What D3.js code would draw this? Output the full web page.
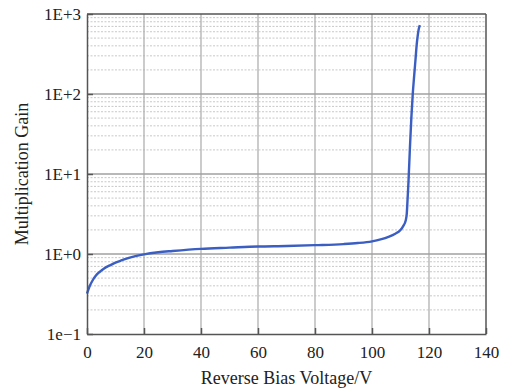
<!DOCTYPE html>
<html>
<head>
<meta charset="utf-8">
<script src="https://cdn.jsdelivr.net/npm/d3@7"></script>
<style>
  body { margin: 0; background: #fff; }
  text { font-family: "Liberation Serif", "Times New Roman", serif; fill: #222; }
</style>
</head>
<body>
<div id="chart"></div>
<script>
// reverse bias voltage (V) and multiplication gain
const voltage = [0, 1, 2, 3, 4, 5, 6, 8, 10, 12, 15, 20, 25, 30, 40, 50, 60, 70, 80, 90, 95, 100,
  103, 106, 108, 110, 111, 111.8, 112.2, 112.5, 112.8, 113.3, 113.8, 114.3, 114.8, 115.3, 115.7,
  116.0, 116.3, 116.6, 116.8];
const gain = [0.32, 0.40, 0.47, 0.53, 0.58, 0.62, 0.66, 0.72, 0.78, 0.83, 0.90, 0.99, 1.05, 1.09,
  1.16, 1.20, 1.24, 1.26, 1.29, 1.33, 1.37, 1.44, 1.52, 1.65, 1.78, 2.0, 2.25, 2.6, 3.2, 5.0, 8,
  21, 50, 100, 170, 280, 420, 520, 620, 690, 725];
const xTicks = [0, 20, 40, 60, 80, 100, 120, 140];
const yTicks = [0.1, 1, 10, 100, 1000];
const yTickLabels = ["1e\u22121", "1E+0", "1E+1", "1E+2", "1E+3"];

const W = 509, H = 391;
const margin = {top: 14, right: 23, bottom: 57, left: 87};
const width = W - margin.left - margin.right;
const height = H - margin.top - margin.bottom;

const svg = d3.select("#chart").append("svg")
  .attr("width", W).attr("height", H);
const g = svg.append("g")
  .attr("transform", "translate(" + margin.left + "," + margin.top + ")");

const x = d3.scaleLinear().domain([0, 140]).range([0, width]);
const y = d3.scaleLog().domain([0.1, 1000]).range([height, 0]);

// minor log gridlines (dotted)
const minor = [];
for (let d = 0.1; d < 1000; d *= 10) {
  for (let k = 2; k <= 9; k++) minor.push(d * k);
}
g.selectAll(".minor").data(minor).enter().append("line")
  .attr("x1", 0).attr("x2", width)
  .attr("y1", d => y(d)).attr("y2", d => y(d))
  .attr("stroke", "#c8c8c8").attr("stroke-width", 1)
  .attr("stroke-dasharray", "2,1.5");

// vertical major gridlines
g.selectAll(".vgrid").data(xTicks.slice(1, -1)).enter().append("line")
  .attr("x1", d => x(d)).attr("x2", d => x(d))
  .attr("y1", 0).attr("y2", height)
  .attr("stroke", "#b0b0b0").attr("stroke-width", 1.3);

// horizontal decade gridlines
g.selectAll(".hgrid").data(yTicks.slice(1, -1)).enter().append("line")
  .attr("x1", 0).attr("x2", width)
  .attr("y1", d => y(d)).attr("y2", d => y(d))
  .attr("stroke", "#a0a0a0").attr("stroke-width", 1.5);

// curve
const line = d3.line()
  .x((d, i) => x(voltage[i]))
  .y(d => y(d))
  .curve(d3.curveMonotoneX);
g.append("path").datum(gain)
  .attr("d", line)
  .attr("fill", "none")
  .attr("stroke", "#3a5ec2")
  .attr("stroke-width", 2.4)
  .attr("stroke-linejoin", "round");

// axes
const xAxis = g.append("g")
  .attr("transform", "translate(0," + height + ")")
  .call(d3.axisBottom(x).tickValues(xTicks).tickSizeInner(-6).tickSizeOuter(0).tickPadding(12));
xAxis.selectAll("text").style("font-size", "17px").attr("fill", "#222");

const yAxis = g.append("g")
  .call(d3.axisLeft(y).tickValues(yTicks).tickFormat((d, i) => yTickLabels[i])
    .tickSizeInner(-6).tickSizeOuter(0).tickPadding(6));
yAxis.selectAll("text").style("font-size", "17px").attr("fill", "#222");

svg.selectAll(".domain").attr("stroke", "#555").attr("stroke-width", 1.5);
svg.selectAll(".tick line").attr("stroke", "#555").attr("stroke-width", 1.5);

// frame top and right
g.append("line").attr("x1", 0).attr("x2", width).attr("y1", 0).attr("y2", 0)
  .attr("stroke", "#555").attr("stroke-width", 1.5);
g.append("line").attr("x1", width).attr("x2", width).attr("y1", 0).attr("y2", height)
  .attr("stroke", "#555").attr("stroke-width", 1.5);

// axis titles
svg.append("text")
  .attr("x", margin.left + width / 2).attr("y", 384)
  .attr("text-anchor", "middle").style("font-size", "18px")
  .text("Reverse Bias Voltage/V");
svg.append("text")
  .attr("transform", "translate(28," + (margin.top + height / 2) + ") rotate(-90)")
  .attr("text-anchor", "middle").style("font-size", "18px")
  .text("Multiplication Gain");
</script>
</body>
</html>
